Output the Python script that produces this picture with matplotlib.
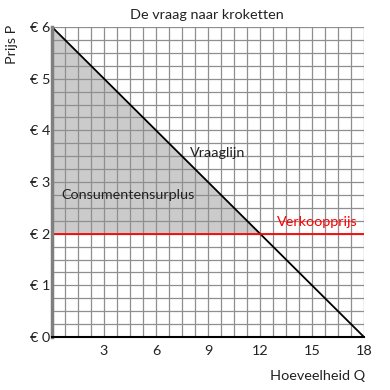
import matplotlib
matplotlib.use("Agg")
import matplotlib.pyplot as plt
import numpy as np

plt.rcParams['font.family'] = ['Lato', 'DejaVu Sans']

# Data
demand_q = [0, 18]
demand_p = [6, 0]
sell_price = 2
x_ticks = [3, 6, 9, 12, 15, 18]
y_ticks = [0, 1, 2, 3, 4, 5, 6]
y_labels = ['€ 0', '€ 1', '€ 2', '€ 3', '€ 4', '€ 5', '€ 6']

FS = 10.4

fig = plt.figure(figsize=(3.9, 3.9), dpi=100)
ax = fig.add_axes([52/390, 53/390, 312/390, 310/390])
ax.set_xlim(0, 18)
ax.set_ylim(0, 6)

# surplus fill
q_eq = demand_q[0] + (demand_p[0] - sell_price) * (demand_q[1] - demand_q[0]) / (demand_p[0] - demand_p[1])
ax.fill([0, 0, q_eq], [sell_price, demand_p[0], sell_price], color='#cbcbcb', zorder=1, linewidth=0)

# grid
for gx in np.arange(0.75, 18.01, 0.75):
    ax.axvline(gx, color='#8f8f8f', linewidth=0.9, zorder=2)
for gy in np.arange(0.25, 6.01, 0.25):
    ax.axhline(gy, color='#8f8f8f', linewidth=0.9, zorder=2)

ax.plot(demand_q, demand_p, color='black', linewidth=1.3, zorder=3)
ax.axhline(sell_price, color='#ff0000', linewidth=1.3, zorder=3)

ax.set_xticks(x_ticks)
ax.set_yticks(y_ticks)
ax.set_yticklabels(y_labels)
ax.tick_params(which='both', length=0, labelsize=FS, colors='#222222')
ax.tick_params(axis='x', pad=6)
ax.tick_params(axis='y', pad=1)

for s in ['top', 'right']:
    ax.spines[s].set_visible(False)
ax.spines['left'].set_color('#7f7f7f')
ax.spines['left'].set_linewidth(2.5)
ax.spines['bottom'].set_color('black')
ax.spines['bottom'].set_linewidth(1.5)
ax.spines['left'].set_zorder(4)
ax.spines['bottom'].set_zorder(4)

ax.text(7.95, 3.56, 'Vraaglijn', fontsize=FS, color='#222222', va='center', ha='left', zorder=5)
ax.text(0.55, 2.75, 'Consumentensurplus', fontsize=FS, color='#222222', va='center', ha='left', zorder=5)
ax.text(13.0, 2.23, 'Verkoopprijs', fontsize=FS, color='#ff0000', va='center', ha='left', zorder=5)

fig.text(0.53, 0.962, 'De vraag naar kroketten', fontsize=FS, ha='center', va='center', color='#222222')
fig.text(0.03, 0.885, 'Prijs P', fontsize=FS, rotation=90, ha='center', va='center', color='#222222')
fig.text(0.937, 0.035, 'Hoeveelheid Q', fontsize=FS, ha='right', va='center', color='#222222')

fig.savefig('out.png', dpi=100)
